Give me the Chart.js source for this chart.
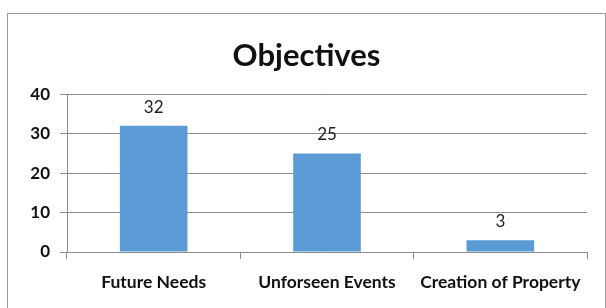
<!DOCTYPE html>
<html>
<head>
<meta charset="utf-8">
<script src="https://cdn.jsdelivr.net/npm/chart.js@4"></script>
<style>
    html, body { margin: 0; padding: 0; background: #fff; }
    #caixa {
        position: absolute; left: 7px; top: 13px;
        width: 597px; height: 295px;
        border: 1px solid #9a9a9a; border-bottom: none;
    }
</style>
</head>
<body>
<div id="caixa"><canvas id="grafico"></canvas></div>
<script>
// ======== DADOS ========
const categorias = ["Future Needs", "Unforseen Events", "Creation of Property"];
const valores = [32, 25, 3];
const ticksY = [0, 10, 20, 30, 40];

const fonte = "Lato, 'Open Sans', sans-serif";

// rótulos em cima das barras
const rotulos = {
    id: "rotulos",
    afterDatasetsDraw(chart) {
        const ctx = chart.ctx;
        const meta = chart.getDatasetMeta(0);
        ctx.save();
        ctx.font = "17px " + fonte;
        ctx.fillStyle = "#222";
        ctx.textAlign = "center";
        ctx.textBaseline = "bottom";
        meta.data.forEach((barra, i) => {
            ctx.fillText(valores[i], barra.x, barra.y - 10);
        });
        ctx.restore();
    }
};

new Chart(document.getElementById("grafico"), {
    type: "bar",
    data: {
        labels: categorias,
        datasets: [{
            data: valores,
            backgroundColor: "#5b9bd5",
            categoryPercentage: 1,
            barPercentage: 0.39
        }]
    },
    options: {
        responsive: true,
        maintainAspectRatio: false,
        animation: false,
        layout: { padding: 0 },
        plugins: {
            legend: { display: false },
            tooltip: { enabled: false },
            title: {
                display: true,
                text: "Objectives",
                color: "#111",
                font: { family: fonte, size: 31, weight: "bold", lineHeight: 1.2 },
                padding: { top: 23, bottom: 20 }
            }
        },
        scales: {
            x: {
                grid: { drawOnChartArea: false, drawTicks: true, tickLength: 7, color: "#8c8c8c", offset: true },
                border: { color: "#8c8c8c" },
                ticks: { color: "#111", font: { family: fonte, size: 17.5, weight: "bold" }, padding: 13 },
                afterFit(s) { s.height = 57; }
            },
            y: {
                min: 0,
                max: 40,
                afterBuildTicks(s) { s.ticks = ticksY.map(v => ({ value: v })); },
                grid: { color: "#8c8c8c", tickLength: 7 },
                border: { color: "#8c8c8c" },
                ticks: { color: "#111", font: { family: fonte, size: 17, weight: "bold" }, padding: 10 },
                afterFit(s) { s.width = 59; }
            },
            // eixo vazio só pra reservar a margem da direita
            margemDireita: {
                position: "right",
                display: true,
                grid: { display: false },
                border: { display: false },
                ticks: { display: false },
                afterFit(s) { s.width = 18; }
            }
        }
    },
    plugins: [rotulos]
});
</script>
</body>
</html>
